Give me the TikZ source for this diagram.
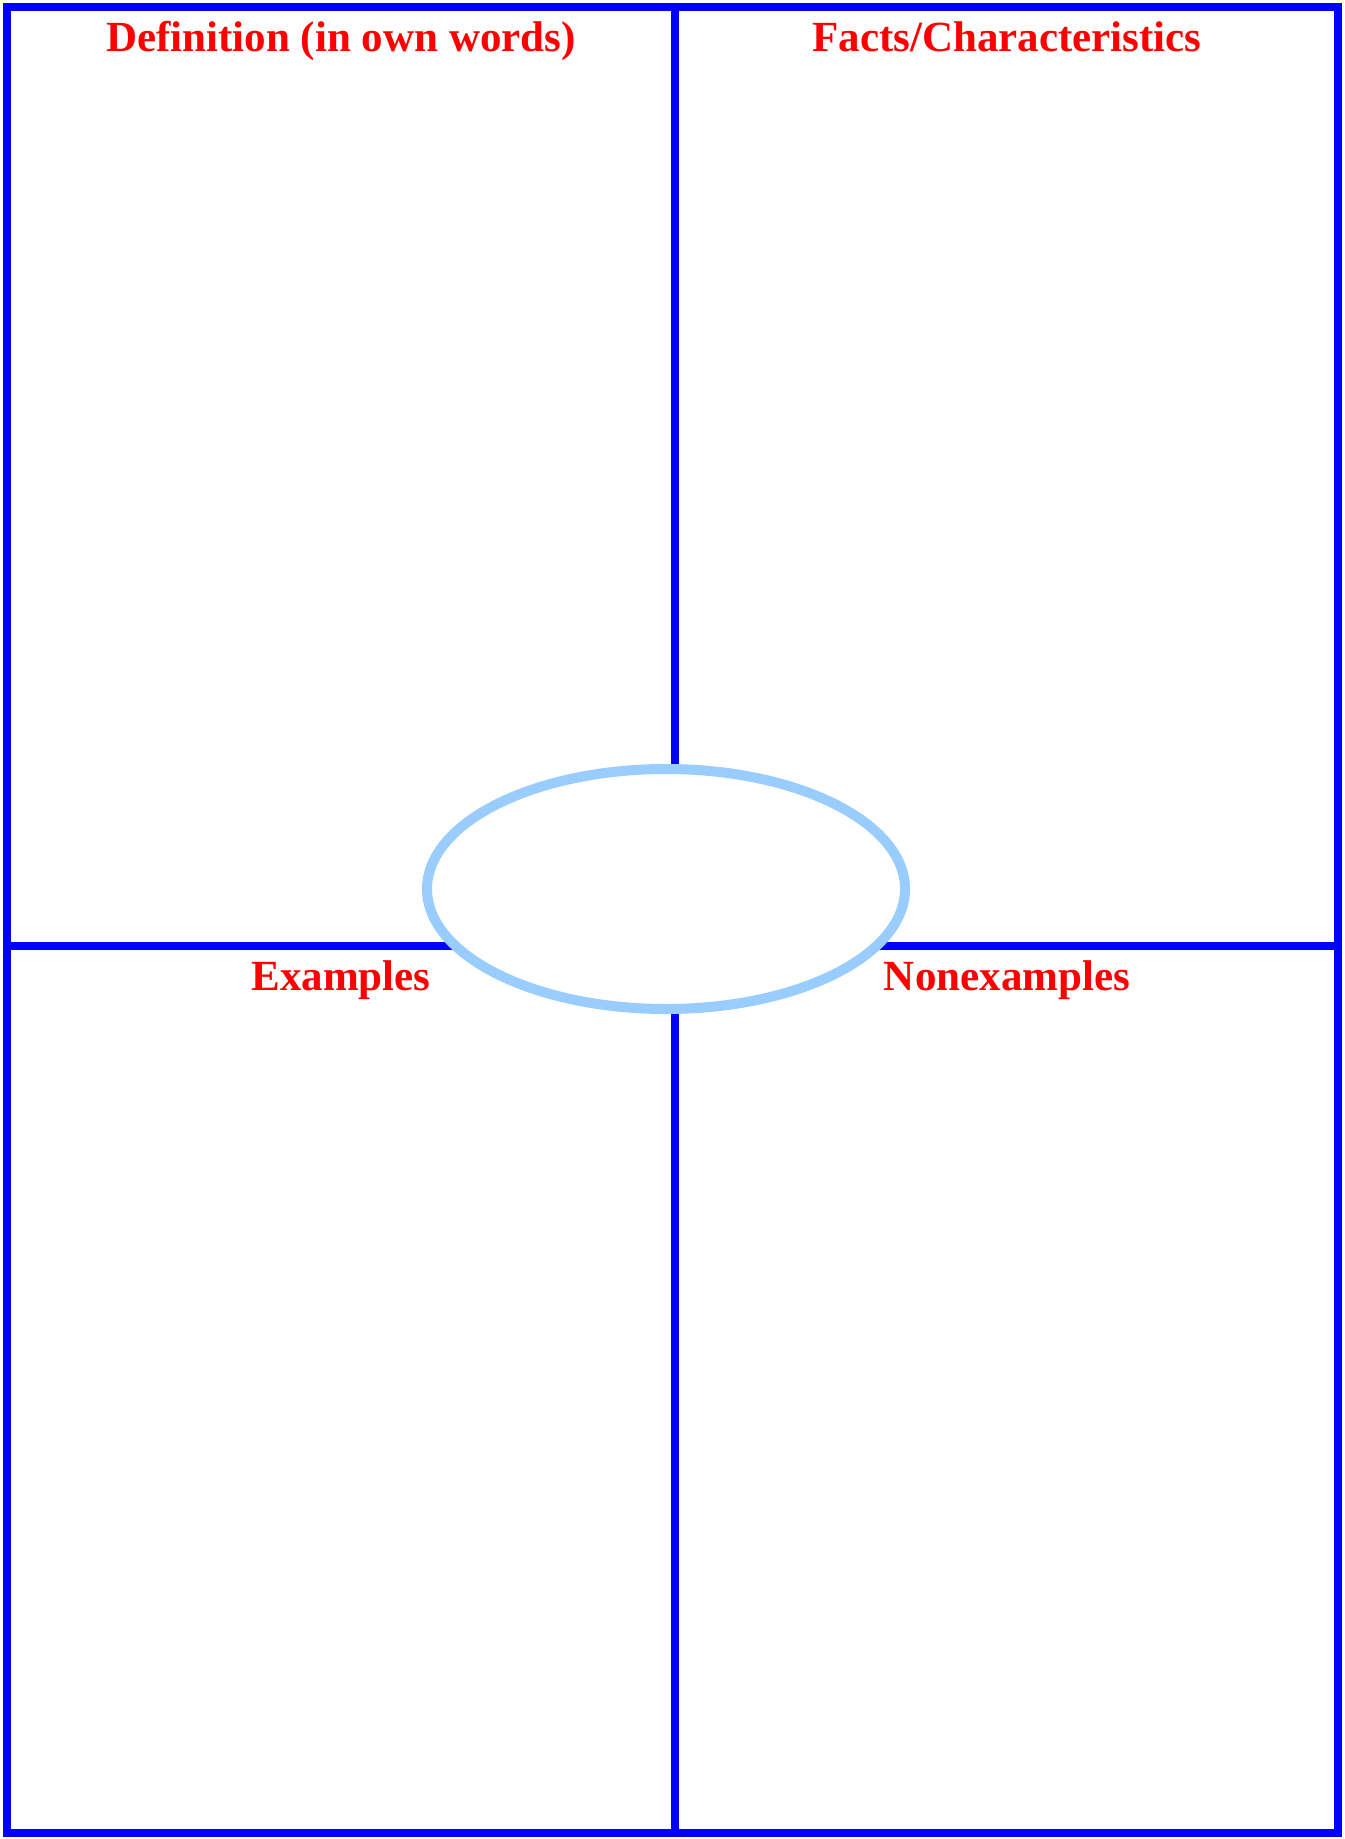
\documentclass[tikz,border=0pt]{standalone}
\usepackage{fontspec}
\setmainfont{Liberation Serif}
\usetikzlibrary{positioning}
\definecolor{frameblue}{RGB}{0,0,255}
\definecolor{ovalblue}{RGB}{153,204,255}
\definecolor{headred}{RGB}{255,0,0}
\begin{document}
\begin{tikzpicture}[x=0.5pt,y=-0.5pt,
  frame/.style={draw=frameblue, line width=3.6pt},
  heading/.style={text=headred, font=\fontsize{21.5}{24}\selectfont\bfseries, anchor=base, inner sep=0pt}]
\useasboundingbox (0,0) rectangle (1344,1839);
% Outer frame and quadrant dividers
\draw[frame] (7,7) rectangle (1338,1833);
\draw[frame] (675,7) -- (675,1833);
\draw[frame] (7,946) -- (1338,946);
% Centre oval for the word
\draw[ovalblue, line width=5pt, fill=white] (666,889) ellipse (239 and 120);
% Quadrant headings
\node[heading] (defn) at (341,52) {Definition (in own words)};
\node[heading] (facts) at (1007,52) {Facts/Characteristics};
\node[heading] (exmp) at (341,990) {Examples};
\node[heading] (nonexmp) at (1007,990) {Nonexamples};
\end{tikzpicture}
\end{document}
